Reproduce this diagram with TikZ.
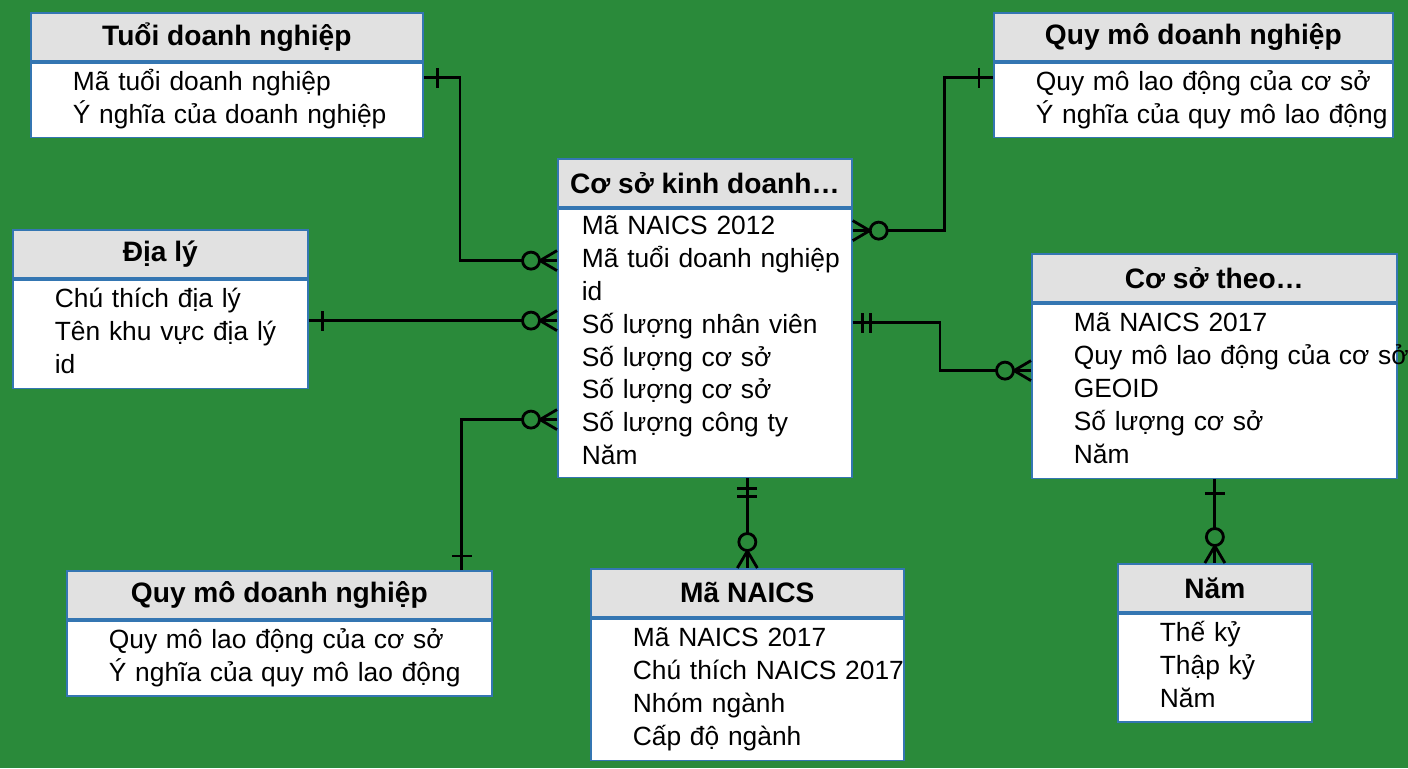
\documentclass[tikz,border=0pt]{standalone}
\usepackage{fontspec}
\setmainfont{Liberation Sans}
\usetikzlibrary{decorations.markings}

\definecolor{bggreen}{RGB}{42,138,58}
\definecolor{hdrgray}{RGB}{225,225,225}
\definecolor{edgeblue}{RGB}{52,118,178}

\newcommand{\fields}[2][0.84cm]{\begin{tabular}{@{\hspace{#1}}l@{}}#2\end{tabular}}

\tikzset{
  hdr/.style={draw=edgeblue,line width=1pt,fill=hdrgray,anchor=north west,minimum height=0.96cm,inner sep=0pt,font=\fontsize{16pt}{19pt}\selectfont\bfseries},
  body/.style={draw=edgeblue,line width=1pt,fill=white,anchor=north west,inner xsep=0pt,inner ysep=0pt,align=left,font=\fontsize{15pt}{18.7pt}\selectfont},
  rel/.style={line width=1.6pt},
  one start/.style={postaction={decorate,decoration={markings,mark=at position 0 with {\draw[line width=1.6pt] (0.28cm,-0.2cm) -- (0.28cm,0.2cm);}}}},
  two start/.style={postaction={decorate,decoration={markings,mark=at position 0 with {\draw[line width=1.6pt] (0.2cm,-0.2cm) -- (0.2cm,0.2cm) (0.36cm,-0.2cm) -- (0.36cm,0.2cm);}}}},
  zmany end/.style={postaction={decorate,decoration={markings,mark=at position 1 with {\draw[line width=1.6pt] (0,0.2cm) -- (-0.34cm,0) -- (0,-0.2cm); \draw[line width=1.6pt,fill=bggreen] (-0.52cm,0) circle[radius=0.17cm];}}}}
}

\begin{document}
\begin{tikzpicture}[x=0.02cm,y=-0.02cm]
\fill[bggreen] (0,0) rectangle (1408,768);

% entities
\node[hdr,minimum width=7.84cm] (tuoi) at (30,12) {Tuổi doanh nghiệp};
\node[body,text width=7.84cm,minimum height=1.5cm] (tuoiB) at (tuoi.south west) {\fields{Mã tuổi doanh nghiệp\\Ý nghĩa của doanh nghiệp}};

\node[hdr,minimum width=7.98cm] (quymoA) at (993,12) {Quy mô doanh nghiệp};
\node[body,text width=7.98cm,minimum height=1.5cm] (quymoAB) at (quymoA.south west) {\fields{Quy mô lao động của cơ sở\\Ý nghĩa của quy mô lao động}};

\node[hdr,minimum width=5.88cm] (coso) at (557,158) {Cơ sở kinh doanh…};
\node[body,text width=5.88cm,minimum height=5.38cm] (cosoB) at (coso.south west) {\fields[0.48cm]{Mã NAICS 2012\\Mã tuổi doanh nghiệp\\id\\Số lượng nhân viên\\Số lượng cơ sở\\Số lượng cơ sở\\Số lượng công ty\\Năm}};

\node[hdr,minimum width=5.9cm] (dialy) at (12,229) {Địa lý};
\node[body,text width=5.9cm,minimum height=2.18cm] (dialyB) at (dialy.south west) {\fields{Chú thích địa lý\\Tên khu vực địa lý\\id}};

\node[hdr,minimum width=7.3cm] (theo) at (1031,253) {Cơ sở theo…};
\node[body,text width=7.3cm,minimum height=3.5cm] (theoB) at (theo.south west) {\fields{Mã NAICS 2017\\Quy mô lao động của cơ sở\\GEOID\\Số lượng cơ sở\\Năm}};

\node[hdr,minimum width=8.5cm] (quymoB) at (66,570) {Quy mô doanh nghiệp};
\node[body,text width=8.5cm,minimum height=1.5cm] (quymoBB) at (quymoB.south west) {\fields{Quy mô lao động của cơ sở\\Ý nghĩa của quy mô lao động}};

\node[hdr,minimum width=6.26cm] (naics) at (590,568) {Mã NAICS};
\node[body,text width=6.26cm,minimum height=2.84cm] (naicsB) at (naics.south west) {\fields{Mã NAICS 2017\\Chú thích NAICS 2017\\Nhóm ngành\\Cấp độ ngành}};

\node[hdr,minimum width=3.88cm] (nam) at (1117,563) {Năm};
\node[body,text width=3.88cm,minimum height=2.16cm] (namB) at (nam.south west) {\fields{Thế kỷ\\Thập kỷ\\Năm}};

% relationships
\coordinate (kA) at ([yshift=1.65cm]cosoB.west);
\coordinate (kB) at ([yshift=2.25cm]cosoB.east);
\coordinate (kC) at ([yshift=0.45cm]cosoB.west);
\coordinate (kD) at ([yshift=-1.53cm]cosoB.west);
\coordinate (kE) at ([yshift=0.41cm]cosoB.east);
\coordinate (tE) at ([yshift=0.41cm]theoB.west);

\draw[rel,one start,zmany end] ([yshift=0.45cm]tuoiB.east) -| ([xshift=-1.94cm]kA) -- (kA);
\draw[rel,one start,zmany end] ([yshift=0.45cm]quymoAB.west) -| ([xshift=1.84cm]kB) -- (kB);
\draw[rel,one start,zmany end] (dialyB.east |- kC) -- (kC);
\draw[rel,one start,zmany end] ([xshift=-0.62cm]quymoB.north east) |- (kD);
\draw[rel,two start,zmany end] (kE) -| ([xshift=-1.82cm]tE) -- (tE);
\draw[rel,two start,zmany end] (cosoB.south -| naics.north) -- (naics.north);
\draw[rel,one start,zmany end] (theoB.south -| nam.north) -- (nam.north);

\end{tikzpicture}
\end{document}
